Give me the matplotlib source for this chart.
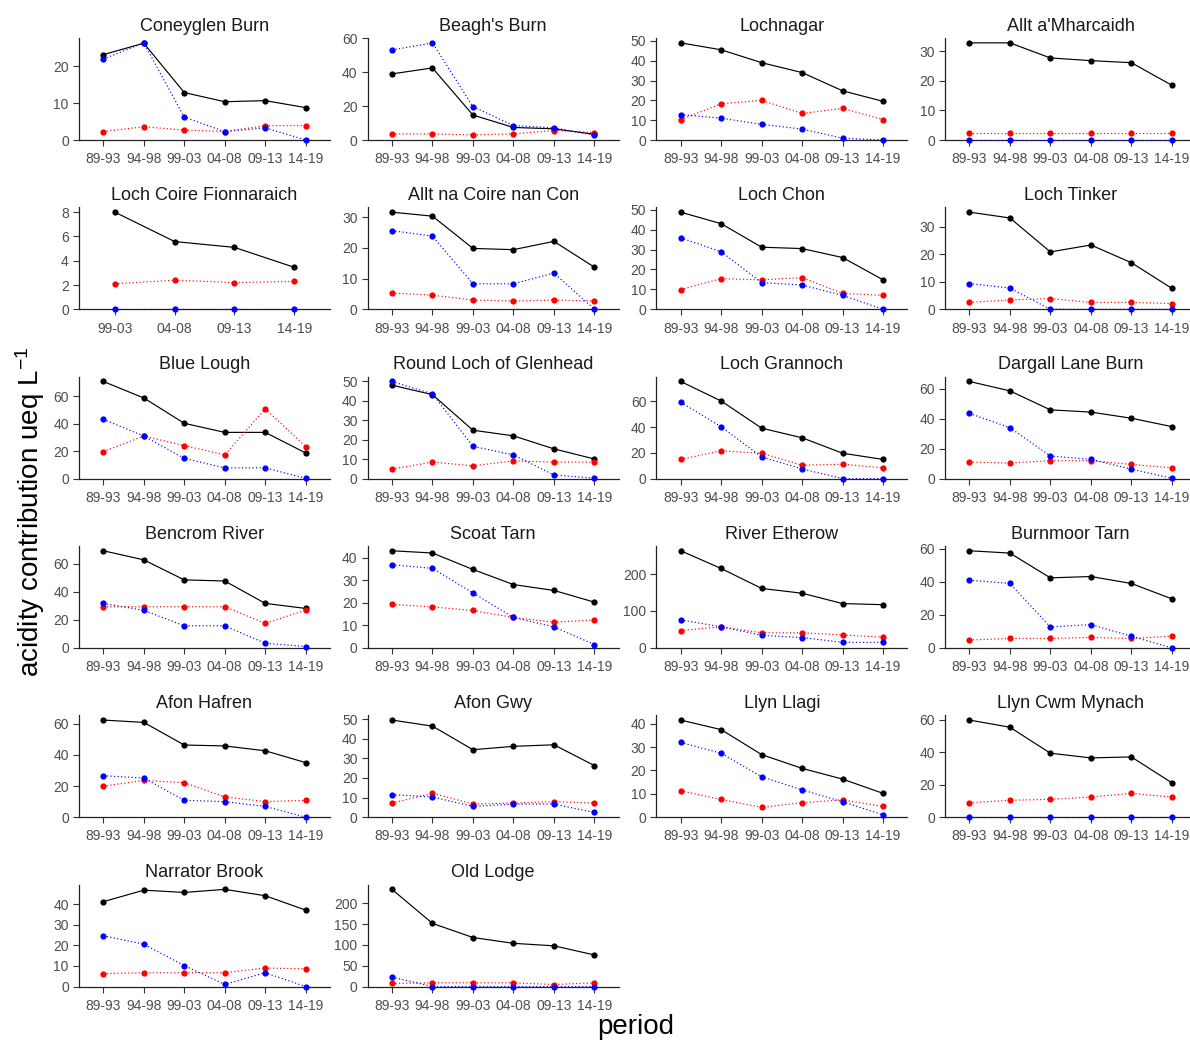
import numpy as np
import matplotlib
matplotlib.use("Agg")
import matplotlib.pyplot as plt

plt.rcParams['font.family'] = ['Liberation Sans', 'DejaVu Sans']
plt.rcParams['mathtext.fontset'] = 'custom'
plt.rcParams['mathtext.rm'] = 'Liberation Sans'
plt.rcParams['mathtext.it'] = 'Liberation Sans:italic'

periods = ["89-93", "94-98", "99-03", "04-08", "09-13", "14-19"]

sites = ["Coneyglen Burn", "Beagh's Burn", "Lochnagar", "Allt a'Mharcaidh",
         "Loch Coire Fionnaraich", "Allt na Coire nan Con", "Loch Chon", "Loch Tinker",
         "Blue Lough", "Round Loch of Glenhead", "Loch Grannoch", "Dargall Lane Burn",
         "Bencrom River", "Scoat Tarn", "River Etherow", "Burnmoor Tarn",
         "Afon Hafren", "Afon Gwy", "Llyn Llagi", "Llyn Cwm Mynach",
         "Narrator Brook", "Old Lodge"]

# black solid series
black_vals = [
    [23.2, 26.3, 12.9, 10.4, 10.7, 8.8],
    [39.0, 42.5, 14.7, 7.4, 6.6, 3.4],
    [49.0, 45.5, 39.0, 34.0, 24.8, 19.5],
    [32.8, 32.8, 27.7, 26.8, 26.1, 18.5],
    [None, None, 8.0, 5.58, 5.1, 3.46],
    [31.6, 30.3, 19.8, 19.4, 22.1, 13.7],
    [48.8, 43.0, 31.2, 30.5, 26.0, 14.8],
    [35.2, 33.1, 20.8, 23.3, 16.9, 7.6],
    [70.6, 58.6, 40.2, 33.6, 33.6, 18.6],
    [48.1, 43.2, 24.9, 22.0, 15.3, 10.1],
    [75.5, 60.3, 39.2, 31.7, 19.7, 14.9],
    [65.0, 58.7, 46.0, 44.5, 40.4, 34.8],
    [69.4, 62.9, 48.6, 47.8, 31.8, 28.2],
    [43.1, 42.1, 34.8, 28.1, 25.5, 20.3],
    [263, 215, 161, 148, 120, 117],
    [58.8, 57.4, 42.4, 43.2, 39.0, 29.7],
    [62.3, 60.8, 46.3, 45.7, 42.6, 35.0],
    [49.5, 46.4, 34.4, 36.1, 36.9, 26.3],
    [41.6, 37.5, 26.8, 20.9, 16.3, 10.2],
    [59.8, 55.4, 39.4, 36.5, 37.1, 21.2],
    [41.3, 46.9, 45.8, 47.3, 44.2, 37.2],
    [234, 152, 118, 104, 98, 76],
]

# blue dotted series
blue_vals = [
    [22.0, 26.4, 6.2, 2.3, 3.3, 0.0],
    [53.1, 57.3, 19.7, 8.5, 7.2, 2.8],
    [12.8, 11.0, 7.9, 5.5, 0.9, 0.0],
    [0, 0, 0, 0, 0, 0],
    [None, None, 0, 0, 0, 0],
    [25.6, 23.8, 8.3, 8.3, 11.8, 0.0],
    [35.9, 28.9, 13.4, 12.2, 7.0, 0.0],
    [9.3, 7.7, 0, 0, 0, 0],
    [43.1, 30.9, 14.7, 7.8, 7.8, 0.2],
    [50.0, 43.6, 16.6, 12.2, 1.9, 0.2],
    [59.3, 40.3, 16.8, 7.5, 0.0, 0.0],
    [43.6, 34.1, 15.1, 12.9, 6.3, 0.2],
    [31.8, 26.8, 15.8, 15.8, 3.3, 1.0],
    [36.9, 35.3, 24.4, 13.5, 9.3, 1.5],
    [76, 57, 34, 28, 15, 15],
    [41.0, 39.0, 12.7, 14.1, 7.1, 0.0],
    [26.6, 25.1, 10.8, 10.0, 6.9, 0.0],
    [11.5, 10.3, 5.5, 6.7, 6.7, 2.4],
    [32.0, 27.4, 17.3, 11.7, 6.6, 1.0],
    [0, 0, 0, 0, 0, 0],
    [24.7, 20.6, 10.2, 1.0, 6.7, 0.0],
    [22.6, 0, 0, 0, 0, 0],
]

# red dotted series
red_vals = [
    [2.3, 3.6, 2.7, 2.3, 3.9, 3.9],
    [3.6, 3.6, 3.0, 3.6, 5.6, 4.4],
    [10.3, 18.3, 20.0, 13.4, 15.9, 10.3],
    [2.2, 2.2, 2.2, 2.2, 2.2, 2.2],
    [None, None, 2.1, 2.4, 2.2, 2.3],
    [5.3, 4.6, 3.0, 2.7, 3.0, 2.7],
    [9.9, 15.4, 14.8, 15.9, 8.0, 7.0],
    [2.5, 3.4, 3.9, 2.5, 2.5, 2.1],
    [19.6, 30.9, 24.0, 17.2, 50.7, 23.3],
    [4.9, 8.5, 6.6, 9.1, 8.5, 8.5],
    [14.9, 21.6, 19.7, 10.4, 11.2, 8.3],
    [11.1, 10.4, 12.0, 12.0, 9.5, 7.2],
    [29.4, 29.4, 29.4, 29.4, 17.5, 27.0],
    [19.3, 18.2, 16.6, 13.5, 11.4, 12.4],
    [47, 57, 41, 41, 35, 29],
    [4.8, 5.7, 5.7, 6.3, 5.7, 7.1],
    [19.9, 23.6, 22.1, 13.0, 10.0, 10.8],
    [7.2, 12.2, 6.7, 7.2, 7.9, 7.2],
    [11.3, 7.6, 4.2, 6.2, 7.4, 4.6],
    [8.9, 10.4, 11.0, 12.4, 14.7, 12.4],
    [6.3, 6.7, 6.7, 6.7, 9.0, 8.6],
    [7.3, 8.9, 8.9, 8.9, 4.8, 8.9],
]

# y tick step per panel
ytick_step = [10, 20, 10, 10, 2, 10, 10, 10,
              20, 10, 20, 20, 20, 10, 100, 20,
              20, 10, 10, 20, 10, 50]

W, H = 1190, 1042
fig = plt.figure(figsize=(W / 100, H / 100), dpi=100)

col_left = [79 + i * 288.7 for i in range(4)]
panel_w = 251
row_zero = [140 + r * 169.3 for r in range(6)]
panel_h = 102

series_styles = [
    ("black", "-", 2),
    ("#FF0000", (0, (1, 2)), 3),
    ("#0000FF", (0, (1, 2)), 4),
]

for i, site in enumerate(sites):
    r, c = divmod(i, 4)
    ax = fig.add_axes([col_left[c] / W, 1 - row_zero[r] / H, panel_w / W, panel_h / H])
    keep = [k for k, v in enumerate(black_vals[i]) if v is not None]
    cats = [periods[k] for k in keep]
    x = np.arange(len(cats))
    all_vals = []
    for vals, (col, ls, z) in zip([black_vals[i], red_vals[i], blue_vals[i]], series_styles):
        y = [vals[k] for k in keep]
        all_vals += y
        ax.plot(x, y, color=col, linestyle=ls, linewidth=0.85, marker='o',
                markersize=4.5, markeredgewidth=0, clip_on=False, zorder=z)
    top = max(all_vals) * 1.05
    ax.set_xlim(-0.6, len(cats) - 1 + 0.6)
    ax.set_ylim(0, top)
    ax.set_xticks(x)
    ax.set_xticklabels(cats)
    yt = np.arange(0, top, ytick_step[i])
    ax.set_yticks(yt)
    ax.set_yticklabels([f"{int(v)}" for v in yt])
    for s in ["top", "right"]:
        ax.spines[s].set_visible(False)
    for s in ["left", "bottom"]:
        ax.spines[s].set_color("#222222")
        ax.spines[s].set_linewidth(0.9)
    ax.tick_params(axis='both', colors='#333333', labelcolor='#4D4D4D',
                   length=4.3, width=0.8, labelsize=10)
    ax.tick_params(axis='x', pad=4.5)
    ax.tick_params(axis='y', pad=3)
    ax.annotate(site, xy=(0.5, 1), xycoords='axes fraction', xytext=(0, 8.5),
                textcoords='offset points', ha='center', va='center',
                fontsize=13, color='#1A1A1A')

fig.text(30 / W, 1 - 512 / H, 'acidity contribution ueq L$^{-1}$', rotation=90,
         ha='center', va='center', fontsize=20)
fig.text(636 / W, 1 - 1027 / H, 'period', ha='center', va='center', fontsize=20)

fig.savefig("out.png", dpi=100, facecolor='white')
